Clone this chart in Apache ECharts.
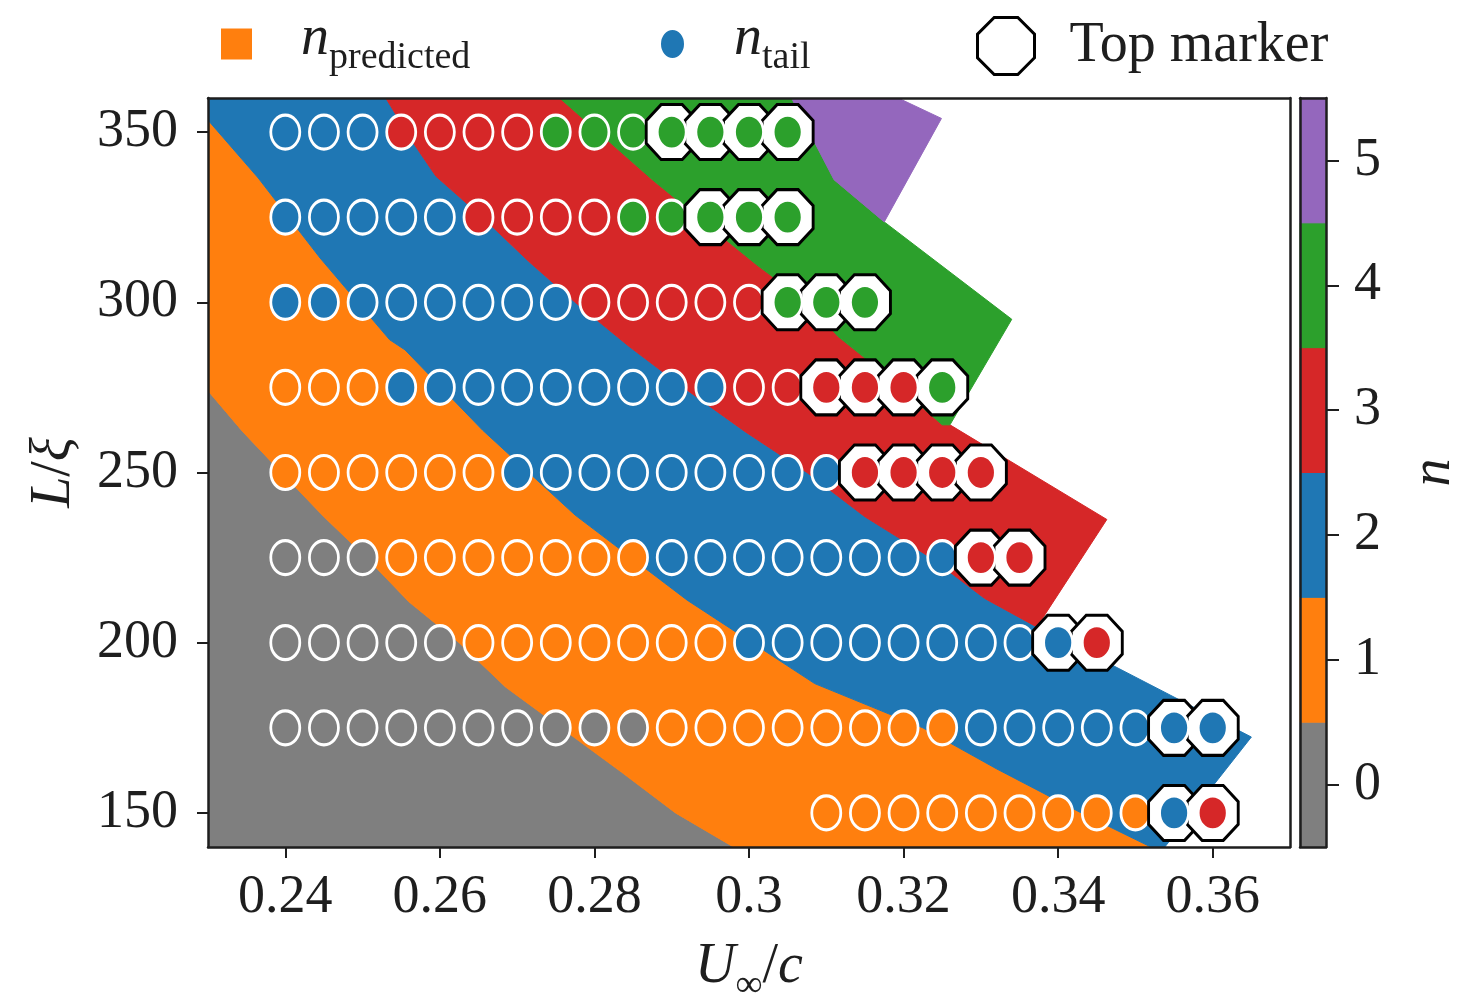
<!DOCTYPE html>
<html>
<head>
<meta charset="utf-8">
<script src="https://cdn.jsdelivr.net/npm/echarts@6/dist/echarts.min.js"></script>
<style>
  html, body { margin: 0; padding: 0; background: #ffffff; }
  #chart { width: 1468px; height: 998px; }
</style>
</head>
<body>
<div id="chart"></div>
<script>
// ---- sampling grid -------------------------------------------------------
const uValues = [0.24, 0.245, 0.25, 0.255, 0.26, 0.265, 0.27, 0.275, 0.28, 0.285,
                 0.29, 0.295, 0.3, 0.305, 0.31, 0.315, 0.32, 0.325, 0.33, 0.335,
                 0.34, 0.345, 0.35, 0.355, 0.36];
const xTicks = [0.24, 0.26, 0.28, 0.3, 0.32, 0.34, 0.36];
const yTicks = [150, 200, 250, 300, 350];
const nLevels = [0, 1, 2, 3, 4, 5];
const nColors = ['#7f7f7f', '#ff7f0e', '#1f77b4', '#d62728', '#2ca02c', '#9467bd'];

// ---- n_tail per simulated point, one array per L/xi row -----------------
const rowL = [350, 325, 300, 275, 250, 225, 200, 175, 150];
const rowStart = [0, 0, 0, 0, 0, 0, 0, 0, 14];      // first index into uValues
const tail350 = [2,2,2,3,3,3,3,4,4,4,4,4,4,4];
const tail325 = [2,2,2,2,2,3,3,3,3,4,4,4,4,4];
const tail300 = [2,2,2,2,2,2,2,2,3,3,3,3,3,4,4,4];
const tail275 = [1,1,1,2,2,2,2,2,2,2,2,2,3,3,3,3,3,4];
const tail250 = [1,1,1,1,1,1,2,2,2,2,2,2,2,2,2,3,3,3,3];
const tail225 = [0,0,0,1,1,1,1,1,1,1,2,2,2,2,2,2,2,2,3,3];
const tail200 = [0,0,0,0,0,1,1,1,1,1,1,1,2,2,2,2,2,2,2,2,2,3];
const tail175 = [0,0,0,0,0,0,0,0,0,0,1,1,1,1,1,1,1,1,2,2,2,2,2,2,2];
const tail150 = [1,1,1,1,1,1,1,1,1,2,3];
const tailRows = [tail350, tail325, tail300, tail275, tail250, tail225, tail200, tail175, tail150];
const rowTopCount = [4, 3, 3, 4, 4, 2, 2, 2, 2];   // last k points of each row carry the top marker

// ---- predicted-n region boundaries, [U/c, L/xi] ---------------------------
const edge01 = [[0.23,274],[0.2345,262],[0.2395,250],[0.245,237],[0.2505,225],[0.256,212],
                [0.2625,200],[0.2685,187],[0.2757,175],[0.2835,162],[0.2905,150],[0.298,140]];
const edge12 = [[0.23,353.5],[0.2365,336.5],[0.2445,313],[0.2535,289],[0.2555,286],[0.2655,262.5],
                [0.2775,237.5],[0.292,212.5],[0.3085,188],[0.3225,175],[0.332,163],[0.343,150],[0.352,140]];
const edge23 = [[0.253,360],[0.2565,347],[0.2595,337],[0.2655,325],[0.2715,312],[0.2775,300],
                [0.2845,287],[0.2915,275],[0.2995,262],[0.3075,250],[0.315,237],[0.3235,225],
                [0.3305,213],[0.3371,204.8]];
const edge34 = [[0.2755,360],[0.2805,350],[0.2875,336],[0.2945,323],[0.301,311],[0.3075,300],
                [0.3115,290],[0.317,280],[0.322,270],[0.325,264]];
const edge45 = [[0.3055,360],[0.311,336],[0.3175,323.6]];
const outerEdge = [[0.3193,360],[0.3249,354],[0.3175,323.6],[0.334,295],[0.326,264],
                   [0.3463,236.2],[0.3373,204.8],[0.365,172.3],[0.3538,140]];

const rev = a => a.slice().reverse();
const regionPolys = [
  [[0.23, 140]].concat(edge01),
  edge12.concat(rev(edge01)),
  [[0.23, 360]].concat(edge23, outerEdge.slice(6), rev(edge12)),
  edge23.concat(rev(outerEdge.slice(4, 7)), rev(edge34)),
  edge34.concat(rev(outerEdge.slice(2, 5)), rev(edge45)),
  edge45.concat(rev(outerEdge.slice(0, 3)))
];

// ---- marker data ----------------------------------------------------------
const dotData = [], topFrame = [], topDots = [];
rowL.forEach((L, r) => {
  const tails = tailRows[r];
  tails.forEach((n, i) => {
    const u = uValues[rowStart[r] + i];
    const item = { value: [u, L], itemStyle: { color: nColors[n] } };
    if (i >= tails.length - rowTopCount[r]) {
      topFrame.push([u, L]);
      topDots.push(item);
    } else {
      dotData.push(item);
    }
  });
});

// ---- styling helpers ------------------------------------------------------
const serif = '"Liberation Serif", "DejaVu Serif", serif';
const ink = '#1e1e1e';
const ellipse = 'path://M1,0 C1,0.5523 0.5523,1 0,1 C-0.5523,1 -1,0.5523 -1,0 C-1,-0.5523 -0.5523,-1 0,-1 C0.5523,-1 1,-0.5523 1,0 Z';
const octagon = 'path://M0.924,0.383 L0.383,0.924 L-0.383,0.924 L-0.924,0.383 L-0.924,-0.383 L-0.383,-0.924 L0.383,-0.924 L0.924,-0.383 Z';

const mathRich = {
  it:  { fontFamily: serif, fontStyle: 'italic', fontSize: 56, color: ink, lineHeight: 66, verticalAlign: 'top' },
  rm:  { fontFamily: serif, fontSize: 56, color: ink, lineHeight: 66, verticalAlign: 'top' },
  sub: { fontFamily: serif, fontSize: 38, color: ink, lineHeight: 66, verticalAlign: 'bottom' },
  txt: { fontFamily: serif, fontSize: 56, color: ink }
};

const frameLine = { show: true, onZero: false, lineStyle: { color: ink, width: 2.5 } };
const noTick = { show: false };

const chart = echarts.init(document.getElementById('chart'), null, { renderer: 'canvas' });

chart.setOption({
  animation: false,
  backgroundColor: '#ffffff',
  tooltip: { show: false },
  legend: [
    {
      data: [{ name: 'n_predicted', icon: 'rect', itemStyle: { color: nColors[1] } }],
      left: 216, top: 6, itemWidth: 31, itemHeight: 31, selectedMode: false,
      formatter: () => '{it|n}{sub|predicted}',
      textStyle: { padding: [0, 0, 0, 44], rich: mathRich }
    },
    {
      data: [{ name: 'n_tail', icon: ellipse, itemStyle: { color: nColors[2] } }],
      left: 654, top: 6, itemWidth: 25, itemHeight: 30, symbolKeepAspect: false, selectedMode: false,
      formatter: () => '{it|n}{sub|tail}',
      textStyle: { padding: [0, 0, 0, 44], rich: mathRich }
    },
    {
      data: [{ name: 'Top marker', icon: octagon,
               itemStyle: { color: '#ffffff', borderColor: '#000000', borderWidth: 3 } }],
      left: 971, top: 11, itemWidth: 57, itemHeight: 57, symbolKeepAspect: false, selectedMode: false,
      formatter: () => '{txt|Top marker}',
      textStyle: { padding: [0, 0, 0, 30], rich: mathRich }
    }
  ],
  grid: [
    { left: 208, top: 98, width: 1082, height: 749, outerBoundsMode: 'none', containLabel: false },
    { left: 1300, top: 98, width: 26, height: 749, outerBoundsMode: 'none', containLabel: false }
  ],
  xAxis: [
    {
      type: 'value', gridIndex: 0, min: 0.23, max: 0.37, position: 'bottom', z: 10,
      axisLine: frameLine,
      axisTick: { show: true, length: 11, customValues: xTicks, lineStyle: { color: ink, width: 2 } },
      axisLabel: { show: true, customValues: xTicks, margin: 24, fontFamily: serif, fontSize: 54, color: ink,
                   formatter: v => String(v) },
      splitLine: { show: false },
      name: '{it|U}{sub|∞}{rm|/}{it|c}', nameLocation: 'middle', nameGap: 92,
      nameTextStyle: { rich: mathRich }
    },
    {
      type: 'value', gridIndex: 0, min: 0.23, max: 0.37, position: 'top', z: 10,
      axisLine: frameLine, axisTick: noTick, axisLabel: { show: false }, splitLine: { show: false }
    },
    {
      type: 'value', gridIndex: 1, min: 0, max: 1, position: 'bottom', z: 10,
      axisLine: frameLine, axisTick: noTick, axisLabel: { show: false }, splitLine: { show: false }
    },
    {
      type: 'value', gridIndex: 1, min: 0, max: 1, position: 'top', z: 10,
      axisLine: frameLine, axisTick: noTick, axisLabel: { show: false }, splitLine: { show: false }
    }
  ],
  yAxis: [
    {
      type: 'value', gridIndex: 0, min: 140, max: 360, position: 'left', z: 10,
      axisLine: frameLine,
      axisTick: { show: true, length: 11, customValues: yTicks, lineStyle: { color: ink, width: 2 } },
      axisLabel: { show: true, customValues: yTicks, margin: 30, fontFamily: serif, fontSize: 54, color: ink },
      splitLine: { show: false },
      name: '{it|L}{rm|/}{it|ξ}', nameLocation: 'middle', nameGap: 116, nameRotate: 90,
      nameTextStyle: { rich: mathRich }
    },
    {
      type: 'value', gridIndex: 0, min: 140, max: 360, position: 'right', z: 10,
      axisLine: frameLine, axisTick: noTick, axisLabel: { show: false }, splitLine: { show: false }
    },
    {
      type: 'value', gridIndex: 1, min: -0.5, max: 5.5, position: 'right', z: 10,
      axisLine: frameLine,
      axisTick: { show: true, length: 13, customValues: nLevels, lineStyle: { color: ink, width: 2 } },
      axisLabel: { show: true, customValues: nLevels, margin: 28, fontFamily: serif, fontSize: 54, color: ink },
      splitLine: { show: false },
      name: '{it|n}', nameLocation: 'middle', nameGap: 80, nameRotate: 90,
      nameTextStyle: { rich: mathRich }
    },
    {
      type: 'value', gridIndex: 1, min: -0.5, max: 5.5, position: 'left', z: 10,
      axisLine: frameLine, axisTick: noTick, axisLabel: { show: false }, splitLine: { show: false }
    }
  ],
  series: [
    {
      name: 'n_predicted', type: 'custom', xAxisIndex: 0, yAxisIndex: 0, clip: true, silent: true, z: 1,
      data: nLevels.map(n => [n]),
      renderItem: (params, api) => {
        const k = params.dataIndex;
        return {
          type: 'polygon',
          shape: { points: regionPolys[k].map(p => api.coord(p)) },
          style: { fill: nColors[k], stroke: nColors[k], lineWidth: 1 }
        };
      }
    },
    {
      name: 'colorbar', type: 'custom', xAxisIndex: 2, yAxisIndex: 2, silent: true, z: 1,
      data: nLevels.map(n => [n]),
      renderItem: (params, api) => {
        const n = nLevels[params.dataIndex];
        const a = api.coord([0, n + 0.5]);
        const b = api.coord([1, n - 0.5]);
        return {
          type: 'rect',
          shape: { x: a[0], y: a[1], width: b[0] - a[0], height: b[1] - a[1] },
          style: { fill: nColors[n], stroke: nColors[n], lineWidth: 1 }
        };
      }
    },
    {
      name: 'n_tail', type: 'scatter', xAxisIndex: 0, yAxisIndex: 0, silent: true, z: 3,
      symbol: ellipse, symbolSize: [29, 34],
      itemStyle: { borderColor: '#ffffff', borderWidth: 3, opacity: 1 },
      data: dotData
    },
    {
      name: 'Top marker', type: 'scatter', xAxisIndex: 0, yAxisIndex: 0, silent: true, z: 4,
      symbol: octagon, symbolSize: [51, 55],
      itemStyle: { color: '#ffffff', borderColor: '#000000', borderWidth: 3, opacity: 1 },
      data: topFrame
    },
    {
      name: 'n_tail top', type: 'scatter', xAxisIndex: 0, yAxisIndex: 0, silent: true, z: 5,
      symbol: ellipse, symbolSize: [29, 34],
      itemStyle: { borderColor: '#ffffff', borderWidth: 3, opacity: 1 },
      data: topDots
    }
  ]
});
</script>
</body>
</html>
